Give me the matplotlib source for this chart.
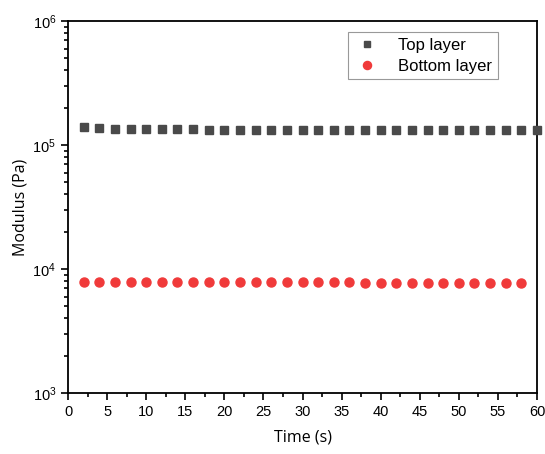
import numpy as np
import matplotlib.pyplot as plt
from matplotlib.ticker import LogLocator, MultipleLocator, NullFormatter

# data
time_top = [2, 4, 6, 8, 10, 12, 14, 16, 18, 20, 22, 24, 26, 28, 30,
            32, 34, 36, 38, 40, 42, 44, 46, 48, 50, 52, 54, 56, 58, 60]
top_layer = [1.40e5, 1.36e5, 1.35e5, 1.35e5, 1.34e5, 1.34e5, 1.34e5, 1.34e5, 1.33e5, 1.33e5,
             1.33e5, 1.33e5, 1.33e5, 1.33e5, 1.32e5, 1.32e5, 1.32e5, 1.32e5, 1.32e5, 1.32e5,
             1.32e5, 1.32e5, 1.32e5, 1.32e5, 1.32e5, 1.32e5, 1.32e5, 1.32e5, 1.32e5, 1.32e5]
time_bot = time_top[:-1]
bottom_layer = [7900, 7900, 7900, 7880, 7880, 7880, 7870, 7860, 7850, 7850,
                7840, 7830, 7830, 7820, 7810, 7800, 7800, 7790, 7780, 7780,
                7770, 7760, 7760, 7750, 7740, 7740, 7730, 7720, 7720]

plt.rcParams['font.family'] = ['Liberation Sans', 'DejaVu Sans']

fig = plt.figure(figsize=(5.45, 4.54), dpi=100)
ax = fig.add_axes([0.1248, 0.1344, 0.8605, 0.8193])

ax.plot(time_top, top_layer, 's', color='#4a4a4a', markersize=5.5, label='Top layer', clip_on=False, zorder=3)
ax.plot(time_bot, bottom_layer, 'o', color='#f03a3a', markersize=6.5, label='Bottom layer', zorder=3)

ax.set_yscale('log')
ax.set_xlim(0, 60)
ax.set_ylim(1e3, 1e6)
ax.xaxis.set_major_locator(MultipleLocator(5))
ax.xaxis.set_minor_locator(MultipleLocator(2.5))
ax.yaxis.set_major_locator(LogLocator(base=10, numticks=10))
ax.yaxis.set_minor_locator(LogLocator(base=10, subs=np.arange(2, 10), numticks=10))
ax.yaxis.set_minor_formatter(NullFormatter())

ax.tick_params(which='both', direction='out', top=False, right=False, labelsize=10.5, width=1.2)
ax.tick_params(which='major', length=5)
ax.tick_params(which='minor', length=3)
for s in ax.spines.values():
    s.set_linewidth(1.3)

ax.set_xlabel('Time (s)', fontsize=11.5, family='Open Sans', labelpad=8)
ax.set_ylabel('Modulus (Pa)', fontsize=11.5, family='Open Sans', labelpad=3)

leg = ax.legend(loc='upper right', bbox_to_anchor=(0.935, 0.993), fontsize=12,
                fancybox=False, edgecolor='#999999', handletextpad=1.1, handlelength=1.6,
                borderpad=0.35, labelspacing=0.35, framealpha=1, markerscale=0.9)
leg.get_frame().set_linewidth(0.8)

fig.savefig('out.png', dpi=100)
